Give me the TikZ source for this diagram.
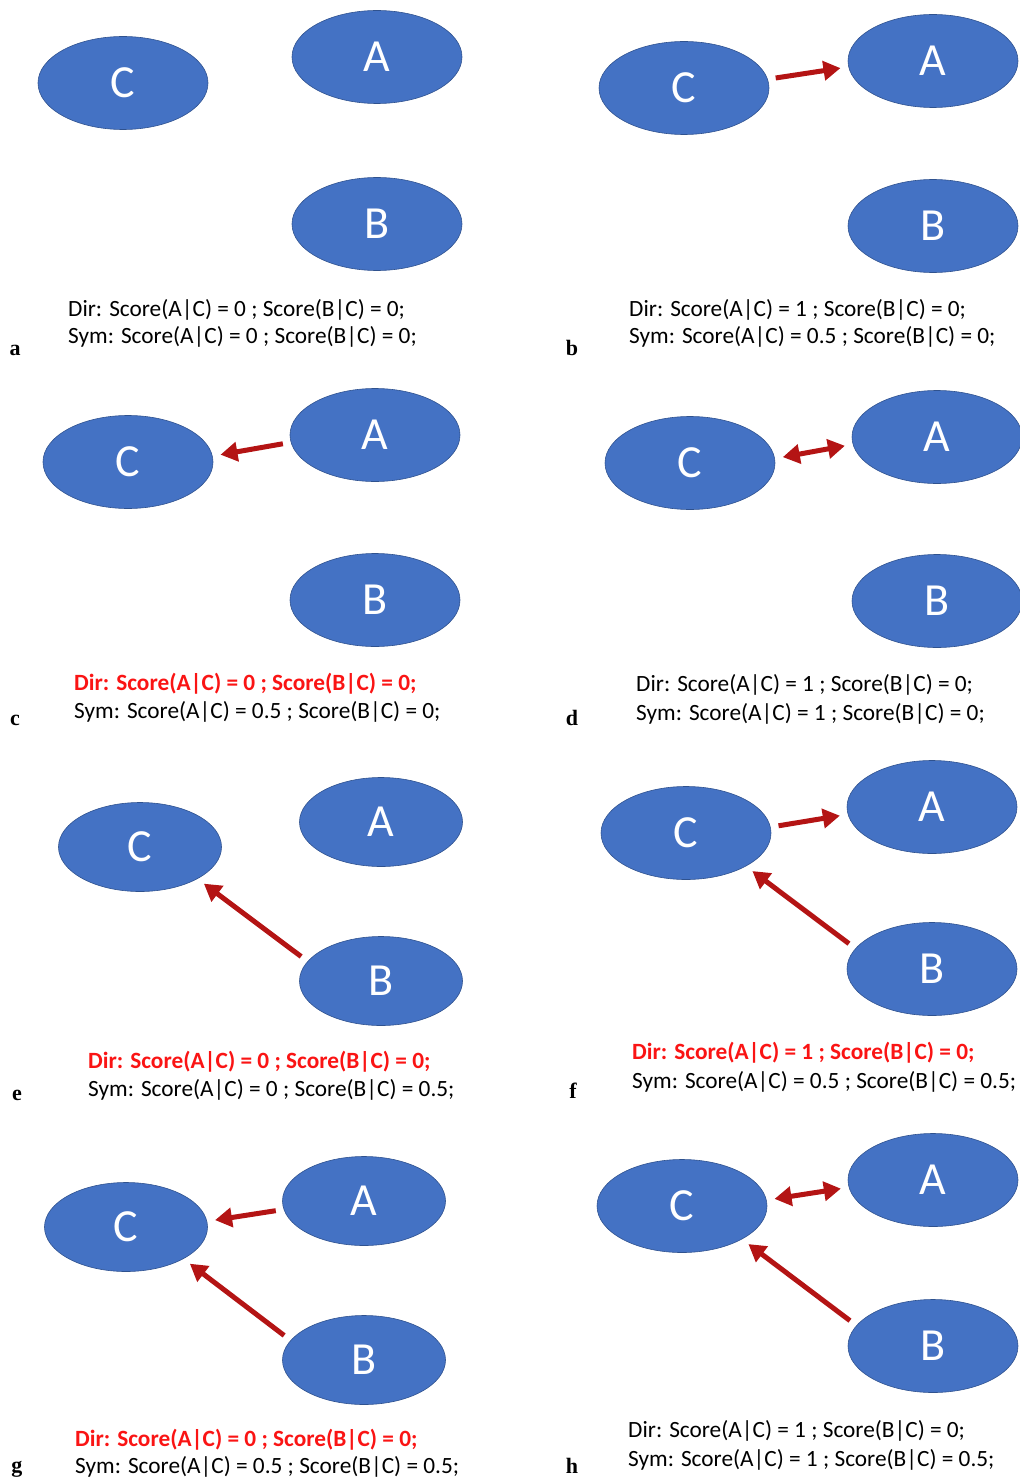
\documentclass[tikz,border=0pt]{standalone}
\usepackage{fontspec}
\setmainfont{Carlito}
\newfontfamily\labfont{Liberation Serif}
\usetikzlibrary{shapes.geometric,arrows.meta}
\definecolor{nodeblue}{HTML}{4472C4}
\definecolor{nodeedge}{HTML}{2F528F}
\definecolor{arrred}{RGB}{180,20,20}
\definecolor{txtred}{RGB}{250,20,20}
\tikzset{
    var/.style={ellipse, fill=nodeblue, draw=nodeedge, line width=0.6pt, inner sep=0pt,
        minimum width=170pt, minimum height=93pt, text=white, font=\fontsize{46}{46}\selectfont},
    varsm/.style={var, minimum width=163pt, minimum height=89pt},
    link/.style={line width=5pt, draw=arrred, shorten <=8pt, shorten >=8pt,
        -{Triangle[length=17pt,width=19pt]}},
    dlink/.style={link, {Triangle[length=17pt,width=19pt]}-{Triangle[length=17pt,width=19pt]}},
    score/.style={anchor=base west, inner sep=0pt, font=\fontsize{23.3}{23.3}\selectfont},
    redscore/.style={score, text=txtred, font=\fontsize{23.3}{23.3}\selectfont\bfseries},
    panel/.style={anchor=base, inner sep=0pt, font=\labfont\fontsize{22}{22}\selectfont\bfseries}
}

\begin{document}
\begin{tikzpicture}[x=1pt,y=-1pt]
    \useasboundingbox (0,0) rectangle (1019,1479);
    %a
    \node[var] (Ca) at (123,83) {C};
    \node[var] (Aa) at (377,57) {A};
    \node[var] (Ba) at (377,224) {B};
    \node[score] (da) at (68,316) {Dir: Score(A|C) = 0 ; Score(B|C) = 0;};
    \node[score] (sa) at (68,343) {Sym: Score(A|C) = 0 ; Score(B|C) = 0;};
    \node[panel] (la) at (15,355) {a};
    %b
    \node[var] (Cb) at (684,88) {C};
    \node[var] (Ab) at (933,61) {A};
    \node[var] (Bb) at (933,226) {B};
    \draw[link] (Cb.6) -- (Ab.184);
    \node[score] (db) at (629,316) {Dir: Score(A|C) = 1 ; Score(B|C) = 0;};
    \node[score] (sb) at (629,343) {Sym: Score(A|C) = 0.5 ; Score(B|C) = 0;};
    \node[panel] (lb) at (572,355) {b};
    %c
    \node[var] (Cc) at (128,462) {C};
    \node[var] (Ac) at (375,435) {A};
    \node[var] (Bc) at (375,600) {B};
    \draw[link] (Ac.185) -- (Cc.4);
    \node[redscore] (dc) at (74,690) {Dir: Score(A|C) = 0 ; Score(B|C) = 0;};
    \node[score] (sc) at (74,718) {Sym: Score(A|C) = 0.5 ; Score(B|C) = 0;};
    \node[panel] (lc) at (15,725) {c};
    %d
    \node[var] (Cd) at (690,463) {C};
    \node[var] (Ad) at (937,437) {A};
    \node[var] (Bd) at (937,601) {B};
    \draw[dlink] (Cd.3) -- (Ad.185);
    \node[score] (dd) at (636,691) {Dir: Score(A|C) = 1 ; Score(B|C) = 0;};
    \node[score] (sd) at (636,720) {Sym: Score(A|C) = 1 ; Score(B|C) = 0;};
    \node[panel] (ld) at (572,725) {d};
    %e
    \node[varsm] (Ce) at (140,847) {C};
    \node[varsm] (Ae) at (381,822) {A};
    \node[varsm] (Be) at (381,981) {B};
    \draw[link] (Be.165) -- (Ce.-29);
    \node[redscore] (de) at (88,1068) {Dir: Score(A|C) = 0 ; Score(B|C) = 0;};
    \node[score] (se) at (88,1096) {Sym: Score(A|C) = 0 ; Score(B|C) = 0.5;};
    \node[panel] (le) at (17,1100) {e};
    %f
    \node[var] (Cf) at (686,833) {C};
    \node[var] (Af) at (932,807) {A};
    \node[var] (Bf) at (932,969) {B};
    \draw[link] (Cf.4) -- (Af.185);
    \draw[link] (Bf.165) -- (Cf.-29);
    \node[redscore] (df) at (632,1059) {Dir: Score(A|C) = 1 ; Score(B|C) = 0;};
    \node[score] (sf) at (632,1088) {Sym: Score(A|C) = 0.5 ; Score(B|C) = 0.5;};
    \node[panel] (lf) at (573,1098) {f};
    %g
    \node[varsm] (Cg) at (126,1227) {C};
    \node[varsm] (Ag) at (364,1201) {A};
    \node[varsm] (Bg) at (364,1360) {B};
    \draw[link] (Ag.186) -- (Cg.4);
    \draw[link] (Bg.165) -- (Cg.-29);
    \node[redscore] (dg) at (75,1446) {Dir: Score(A|C) = 0 ; Score(B|C) = 0;};
    \node[score] (sg) at (75,1473) {Sym: Score(A|C) = 0.5 ; Score(B|C) = 0.5;};
    \node[panel] (lg) at (17,1472) {g};
    %h
    \node[var] (Ch) at (682,1206) {C};
    \node[var] (Ah) at (933,1180) {A};
    \node[var] (Bh) at (933,1346) {B};
    \draw[dlink] (Ch.4) -- (Ah.185);
    \draw[link] (Bh.165) -- (Ch.-29);
    \node[score] (dh) at (628,1437) {Dir: Score(A|C) = 1 ; Score(B|C) = 0;};
    \node[score] (sh) at (628,1466) {Sym: Score(A|C) = 1 ; Score(B|C) = 0.5;};
    \node[panel] (lh) at (572,1473) {h};
\end{tikzpicture}
\end{document}
